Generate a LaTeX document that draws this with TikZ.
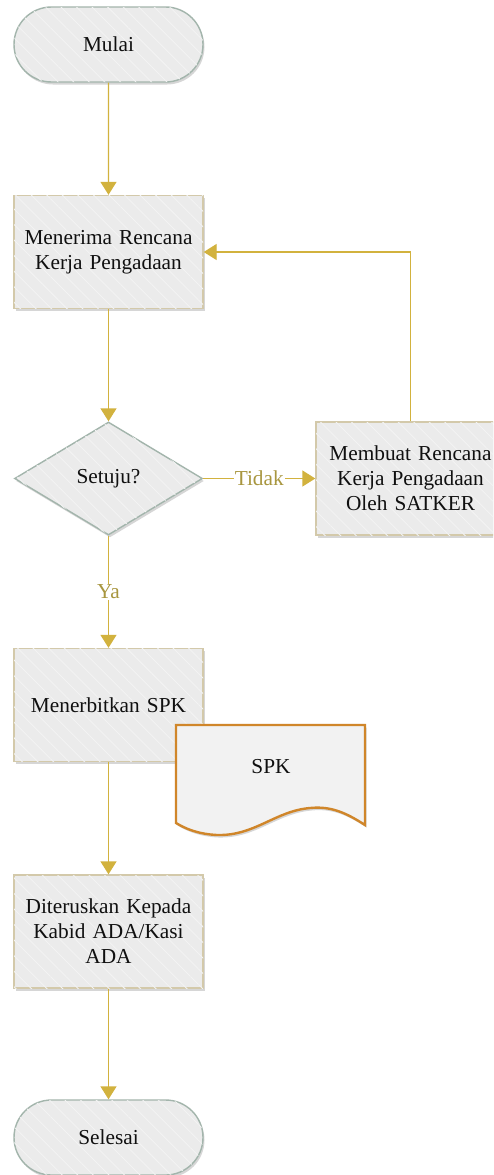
\documentclass[tikz,border=0pt]{standalone}
\usepackage{fontspec}
\setmainfont{Liberation Serif}
\usetikzlibrary{shapes.misc,shapes.geometric,arrows.meta,shadows,patterns.meta}

\definecolor{boxfill}{HTML}{EBEBEB}
\definecolor{hatch}{HTML}{F3F3F3}
\definecolor{termline}{HTML}{A3B5AC}
\definecolor{boxline}{HTML}{D3C9AA}
\definecolor{flow}{HTML}{D2B23E}
\definecolor{labeltext}{HTML}{A8963F}
\definecolor{docline}{HTML}{D0862A}
\definecolor{docfill}{HTML}{F2F2F2}
\definecolor{ink}{HTML}{101010}

\tikzset{
  softshadow/.style={drop shadow={shadow xshift=1.5pt, shadow yshift=-2.5pt, fill=black!45, opacity=0.35}},
  hatched/.style={postaction={pattern={Lines[angle=-45,distance=11pt,line width=0.9pt]}, pattern color=hatch}},
  basetext/.style={font=\fontsize{21.3}{25}\selectfont, text=ink, align=center},
  terminal/.style={basetext, rounded rectangle, draw=termline, line width=1.4pt, fill=boxfill, hatched, softshadow,
                   minimum width=189pt, minimum height=75pt, inner sep=0pt},
  procbox/.style={basetext, rectangle, draw=boxline, line width=1.4pt, fill=boxfill, hatched, softshadow,
                  minimum width=189pt, minimum height=113pt, text width=184pt, inner sep=0pt},
  decision/.style={basetext, diamond, draw=termline, line width=1.4pt, fill=boxfill, hatched, softshadow,
                   minimum width=188pt, minimum height=113pt, inner sep=0pt},
  flowline/.style={draw=flow, line width=1.4pt, -{Triangle[length=13pt,width=16pt]}},
  flowlabel/.style={basetext, text=labeltext, fill=white, inner sep=1pt}
}

\begin{document}
\begin{tikzpicture}[x=1pt,y=-1pt]
  \clip (0,0) rectangle (493,1175);
  \fill[white] (0,0) rectangle (493,1175);

  % flow steps
  \node[terminal] (mulai) at (108.5,44.5) {Mulai};
  \node[procbox] (terima) at (108.5,252) {Menerima Rencana\\Kerja Pengadaan};
  \node[decision] (setuju) at (108.5,478.5) {Setuju?};
  \node[procbox] (buat) at (410.5,478.5) {Membuat Rencana\\Kerja Pengadaan\\Oleh SATKER};
  \node[procbox] (terbit) at (108.5,705) {Menerbitkan SPK};
  \node[procbox] (terus) at (108.5,931.5) {Diteruskan Kepada\\Kabid ADA/Kasi\\ADA};
  \node[terminal] (selesai) at (108.5,1137.5) {Selesai};

  % output document
  \path[draw=docline, line width=2.4pt, fill=docfill, softshadow, line join=miter]
    (176,725) -- (365,725) -- (365,825)
    .. controls (345,812) and (330,806) .. (310,808)
    .. controls (275,811) and (255,836) .. (217,835)
    .. controls (198,834) and (186,829) .. (176,823) -- cycle;
  \node[basetext] (spk) at (271,767) {SPK};

  % connectors
  \draw[flowline] (mulai) -- (terima);
  \draw[flowline] (terima) -- (setuju);
  \draw[flowline] (setuju) -- node[flowlabel, pos=0.5] {Tidak} (buat);
  \draw[flowline] (buat.north) |- (terima.east);
  \draw[flowline] (setuju) -- node[flowlabel, pos=0.5] {Ya} (terbit);
  \draw[flowline] (terbit.south) -- (terus.north);
  \draw[flowline] (terus) -- (selesai);
\end{tikzpicture}
\end{document}
